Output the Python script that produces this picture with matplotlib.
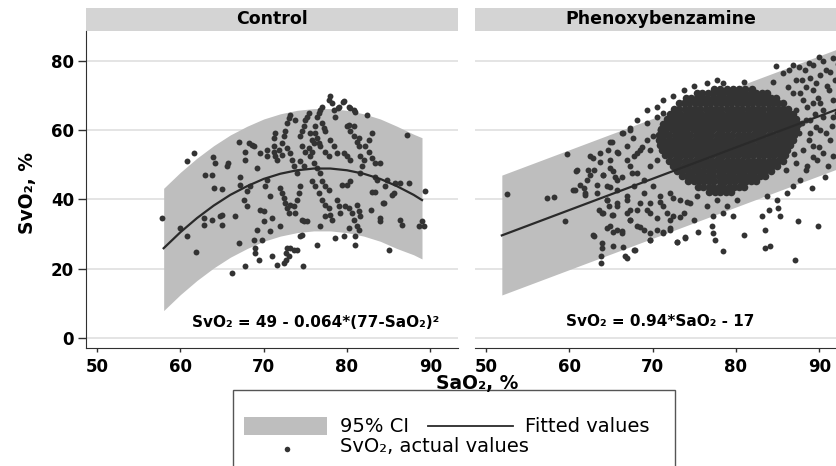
import numpy as np
import matplotlib
matplotlib.use("Agg")
import matplotlib.pyplot as plt
from matplotlib.patches import Rectangle
from matplotlib.lines import Line2D

plt.rcParams['font.family'] = ['DejaVu Sans']

# ---- data ----
panel_titles = ['Control', 'Phenoxybenzamine']
x_ticks = [50, 60, 70, 80, 90]
y_ticks = [0, 20, 40, 60, 80]

# control: quadratic fit and 95% CI
ctrl_ci_x = [58, 60, 62, 64, 66, 68, 70, 72, 74, 76, 78, 80, 82, 84, 86, 88, 89]
ctrl_fit = [25.9, 30.5, 34.6, 38.2, 41.3, 43.8, 45.9, 47.4, 48.4, 48.9, 48.9, 48.4,
            47.4, 45.9, 43.8, 41.3, 39.8]
ctrl_hi = [43.2, 47.8, 51.9, 55.5, 58.6, 61.1, 63.2, 64.7, 65.7, 66.2, 66.2, 65.7,
           64.7, 63.2, 61.1, 58.8, 57.8]
ctrl_lo = [7.9, 12.5, 16.6, 20.2, 23.3, 25.8, 27.9, 29.4, 30.4, 30.9, 30.9, 30.4,
           29.4, 27.9, 25.8, 24.0, 22.8]

# phenoxybenzamine: linear fit and 95% CI
phen_ci_x = [51.9, 93.5]
phen_fit = [29.6, 67.2]
phen_hi = [47.0, 84.6]
phen_lo = [12.4, 50.0]

ctrl_pts = [
    (57.8, 34.6), (60.0, 31.7), (60.8, 29.5), (60.8, 51.0), (61.6, 53.4), (61.9, 24.8),
    (62.8, 32.7), (62.8, 34.6), (63.0, 47.0), (63.8, 47.1), (63.9, 52.2), (64.2, 50.5),
    (63.8, 34.1), (64.8, 35.1), (64.0, 43.3), (65.0, 43.1), (65.0, 32.7), (65.0, 35.6),
    (65.6, 49.5), (65.7, 50.5), (66.6, 35.1), (66.2, 18.8), (67.0, 27.4), (67.1, 56.7),
    (67.2, 46.6), (67.2, 44.2), (67.8, 53.8), (67.8, 51.4), (67.8, 20.7), (68.0, 38.0),
    (68.4, 43.8), (68.8, 28.4), (69.0, 26.0), (69.0, 24.5), (69.4, 22.6), (69.2, 49.0),
    (68.2, 56.3), (68.6, 55.8), (68.8, 55.3), (69.6, 53.4), (69.6, 37.0), (70.0, 36.5),
    (70.0, 33.7), (70.4, 52.4), (70.4, 54.3), (70.8, 30.8), (71.0, 23.6), (71.0, 34.6),
    (71.4, 59.1), (71.2, 57.7), (71.2, 55.3), (71.6, 21.2), (72.0, 32.2), (72.4, 21.6),
    (72.7, 22.6), (72.7, 24.5), (72.8, 26.0), (73.0, 23.6), (73.2, 26.0), (73.6, 25.5),
    (74.0, 25.5), (74.4, 29.3), (74.6, 29.8), (74.7, 20.7), (72.2, 56.3), (72.4, 58.2),
    (72.6, 59.6), (72.8, 62.0), (73.0, 63.5), (73.2, 64.4), (73.8, 63.0), (72.8, 54.8),
    (73.2, 53.4), (73.4, 51.4), (73.6, 49.5), (74.0, 47.6), (72.0, 43.3), (72.2, 41.8),
    (72.4, 40.4), (72.6, 38.9), (72.8, 37.5), (73.0, 36.1), (73.2, 38.5), (73.6, 38.0),
    (73.8, 36.1), (74.0, 39.9), (74.2, 41.8), (74.4, 43.8), (74.6, 34.1), (74.8, 33.7),
    (75.2, 33.7), (74.4, 58.2), (74.6, 59.6), (74.8, 61.1), (75.0, 63.0), (75.2, 63.9),
    (75.4, 64.9), (75.6, 59.1), (75.8, 57.2), (76.0, 56.3), (76.2, 61.1), (76.4, 63.9),
    (76.6, 64.9), (76.8, 65.9), (77.0, 66.8), (75.6, 52.4), (76.0, 50.5), (76.4, 49.0),
    (76.8, 47.6), (77.0, 45.2), (77.4, 43.8), (77.8, 42.8), (75.8, 45.2), (76.2, 43.8),
    (76.6, 41.8), (77.0, 39.9), (77.4, 38.5), (77.8, 37.5), (78.0, 35.6), (78.2, 34.1),
    (76.4, 26.9), (76.8, 32.2), (77.4, 35.1), (77.8, 68.8), (78.0, 69.7), (78.2, 67.8),
    (78.4, 65.9), (78.6, 63.9), (78.0, 57.2), (78.4, 55.3), (78.8, 53.4), (78.6, 28.8),
    (78.8, 39.9), (79.0, 38.0), (79.2, 36.1), (79.0, 66.8), (79.6, 68.3), (80.2, 66.8),
    (79.6, 29.3), (79.4, 44.2), (80.0, 44.2), (80.4, 45.2), (79.6, 53.4), (80.0, 52.4),
    (80.4, 51.4), (80.0, 61.1), (80.4, 59.6), (80.8, 58.2), (81.2, 56.7), (81.4, 55.3),
    (80.2, 61.5), (80.8, 61.1), (79.8, 38.0), (80.2, 37.5), (80.6, 36.1), (80.8, 34.1),
    (81.2, 32.2), (80.2, 31.7), (81.0, 29.3), (81.0, 26.9), (81.4, 31.3), (81.2, 38.5),
    (81.4, 36.6), (81.6, 35.1), (80.8, 65.9), (81.4, 57.7), (81.6, 52.4), (82.0, 51.4),
    (81.6, 47.6), (81.8, 49.5), (82.4, 64.4), (82.2, 55.3), (82.6, 57.2), (83.0, 59.1),
    (82.6, 53.8), (83.0, 51.9), (83.4, 50.5), (83.4, 46.6), (83.6, 45.7), (82.9, 37.0),
    (83.0, 42.0), (84.0, 50.5), (84.0, 33.7), (84.0, 34.6), (84.4, 38.9), (84.6, 43.8),
    (84.8, 45.7), (85.0, 25.5), (85.4, 41.3), (85.6, 41.8), (85.8, 44.7), (86.4, 34.1),
    (86.6, 32.7), (86.4, 44.7), (87.2, 58.7), (87.4, 44.7), (88.6, 32.2), (89.0, 33.7),
    (89.4, 42.3), (89.2, 32.2), (71.2, 53.8), (71.4, 52.4), (71.6, 51.4), (71.8, 54.3),
    (72.2, 52.9), (70.2, 43.8), (70.4, 45.7), (70.8, 40.9), (69.8, 28.4), (69.2, 31.3),
    (68.0, 42.3), (67.6, 39.9), (74.6, 55.3), (75.0, 53.8), (75.4, 54.8), (75.8, 53.8),
    (74.4, 51.0), (74.8, 49.5), (76.2, 59.1), (76.4, 57.7), (76.6, 56.3), (76.8, 55.3),
    (77.0, 62.0), (77.2, 60.6), (77.4, 59.6), (77.4, 53.8), (77.8, 52.4), (79.5, 68.1),
    (78.9, 66.4), (80.4, 66.4), (81.0, 65.2), (83.4, 42.1), (84.3, 39.0),
]

phen_pts = [
    (52.5, 41.6), (57.3, 40.4), (58.1, 40.6), (59.5, 33.7), (59.7, 53.2), (60.8, 48.1),
    (60.7, 42.6), (61.7, 43.3), (61.9, 41.8), (62.1, 45.7), (62.5, 47.1), (62.9, 48.6),
    (62.9, 29.5), (63.9, 27.4), (63.9, 26.0), (63.8, 23.6), (63.8, 21.6), (63.5, 37.0),
    (64.1, 36.1), (64.5, 39.9), (64.7, 38.0), (65.1, 35.6), (64.9, 32.2), (65.7, 31.3),
    (66.3, 30.8), (65.3, 26.4), (66.7, 23.6), (67.7, 25.5), (67.3, 34.1), (68.1, 32.2),
    (68.9, 31.3), (69.7, 30.3), (70.5, 31.3), (71.3, 30.3), (72.1, 31.3), (69.7, 28.4),
    (72.9, 27.6), (73.9, 29.0), (77.1, 32.2), (77.3, 30.3), (77.5, 28.4), (78.5, 25.0),
    (80.9, 29.8), (83.5, 31.3), (83.5, 26.0), (84.1, 26.4), (87.1, 22.6), (87.5, 33.7),
    (89.9, 32.2), (83.1, 35.1), (83.9, 37.0), (85.1, 37.5), (85.3, 35.1), (89.1, 43.3),
    (90.7, 46.6), (91.1, 49.5), (91.7, 52.4), (92.5, 56.7), (86.9, 78.8), (88.3, 77.4),
    (89.3, 78.8), (90.5, 79.8), (91.7, 80.8), (87.9, 74.5), (88.9, 75.0), (90.1, 76.0),
    (91.3, 76.9), (92.5, 77.4), (87.7, 70.7), (89.3, 71.6), (90.9, 72.6), (92.5, 73.6),
    (93.3, 75.0), (88.5, 66.8), (90.1, 67.8), (91.7, 68.8), (92.9, 69.7), (88.9, 63.0),
    (90.5, 63.9), (92.1, 64.9), (93.3, 65.9), (88.9, 59.1), (90.1, 60.1), (91.3, 57.2),
    (92.5, 60.1), (89.3, 55.3), (90.5, 53.4), (89.7, 51.4), (88.5, 49.5), (87.7, 45.7),
    (86.9, 43.8), (86.1, 41.8), (84.9, 39.9), (83.7, 40.9), (64.9, 56.7), (66.3, 59.1),
    (67.3, 60.6), (68.1, 63.0), (69.3, 65.9), (70.5, 66.8), (71.3, 68.8), (72.5, 69.7),
    (73.7, 71.6), (74.9, 72.6), (76.5, 73.6), (77.7, 74.5), (78.5, 73.6), (80.9, 74.0),
    (62.5, 52.4), (63.7, 53.4), (64.9, 51.4), (65.7, 53.8), (66.9, 55.3), (67.7, 52.4),
    (68.5, 54.3), (69.3, 57.2), (70.1, 58.2), (70.9, 60.1), (64.1, 47.1), (65.3, 48.1),
    (66.3, 46.6), (67.3, 49.5), (68.1, 47.6), (68.9, 45.7), (69.7, 49.5), (70.5, 51.4),
    (63.3, 41.8), (64.5, 43.8), (65.7, 42.8), (66.9, 40.9), (67.7, 43.8), (68.9, 41.8),
    (70.1, 43.8), (70.9, 40.9), (72.1, 41.8), (73.3, 39.9), (74.5, 38.9), (75.3, 40.9),
    (76.5, 38.0), (77.7, 39.9), (78.9, 38.0), (80.1, 39.9), (65.7, 38.0), (67.3, 37.0),
    (68.5, 38.9), (69.7, 36.1), (71.3, 38.0), (72.5, 35.1), (73.7, 36.1), (74.9, 34.1),
    (72.1, 34.1), (77.3, 35.1), (78.5, 36.1), (79.7, 35.1),
    (84.8, 78.5), (86.4, 77.3), (87.6, 78.2), (88.8, 79.4), (90.0, 81.1), (90.8, 77.3),
    (87.2, 74.5), (88.4, 72.4), (89.6, 73.6), (91.2, 71.6), (86.8, 70.7), (88.0, 68.7),
    (89.2, 67.8), (90.4, 65.8), (91.6, 63.8), (87.2, 65.8), (88.4, 62.9), (89.6, 60.9),
    (90.8, 59.2), (87.6, 59.2), (88.8, 57.1), (90.0, 55.1), (88.0, 54.3), (89.2, 52.2),
    (87.2, 50.5), (88.4, 48.5), (86.0, 48.5), (85.6, 76.5), (84.4, 73.9),
    (60.9, 48.5), (62.2, 48.5), (62.8, 51.9), (63.7, 50.8), (64.0, 47.0), (64.9, 49.1),
    (65.1, 56.6), (64.6, 54.3), (65.8, 53.4), (66.4, 59.2), (67.3, 60.0), (67.6, 57.7),
    (66.9, 51.4), (68.1, 53.4), (69.3, 62.1), (68.7, 55.1), (69.7, 54.3), (70.5, 63.8),
    (71.2, 64.9), (65.5, 46.5), (67.5, 47.6), (61.3, 44.2), (60.4, 42.7), (61.9, 41.3),
    (63.3, 44.2), (64.9, 43.6), (65.7, 45.6), (64.5, 39.8), (65.7, 39.0), (66.9, 39.8),
    (63.9, 36.1), (65.2, 35.5), (66.9, 36.1), (68.1, 36.9), (69.3, 36.9), (70.5, 34.6),
    (67.3, 34.1), (68.5, 32.0), (62.8, 29.7), (64.5, 31.7), (65.2, 30.6), (66.3, 30.3),
    (66.4, 26.3), (67.9, 25.4), (69.7, 28.3), (71.2, 30.6), (72.1, 31.7), (72.9, 27.7),
    (73.9, 28.9), (66.9, 23.1), (69.7, 39.0), (70.9, 39.3), (72.5, 40.4), (73.3, 34.9),
    (71.7, 36.1), (74.1, 39.3), (75.4, 30.6), (86.2, 72.3), (87.9, 62.0), (89.9, 69.4),
    (91.9, 74.6), (92.2, 79.2), (86.5, 56.1), (87.0, 53.0), (91.5, 61.2), (89.5, 64.6),
]

# dense core of the phenoxybenzamine cloud, read row by row (SvO2 level, SaO2 values)
phen_core = [
    (72.0, [77.4, 78.1, 78.9, 79.6, 80.4, 81.1, 81.9]),
    (70.6, [75.3, 75.9, 76.6, 77.2, 77.9, 78.5, 79.2, 79.8, 80.5, 81.1, 81.8, 82.4, 83.1, 83.7]),
    (69.2, [74.0, 74.6, 75.3, 75.9, 76.5, 77.2, 77.8, 78.4, 79.1, 79.7, 80.3, 81.0, 81.6, 82.2,
            82.9, 83.5, 84.2, 84.8]),
    (67.7, [73.2, 73.8, 74.4, 75.1, 75.7, 76.3, 76.9, 77.6, 78.2, 78.8, 79.4, 80.1, 80.7, 81.3,
            81.9, 82.6, 83.2, 83.8, 84.4, 85.1, 85.6]),
    (66.2, [72.6, 73.2, 73.9, 74.5, 75.1, 75.7, 76.4, 77.0, 77.6, 78.2, 78.9, 79.5, 80.1, 80.7,
            81.4, 82.0, 82.6, 83.2, 83.9, 84.5, 85.1, 85.7, 86.2]),
    (64.7, [72.1, 72.7, 73.3, 74.0, 74.6, 75.2, 75.8, 76.5, 77.1, 77.7, 78.3, 79.0, 79.6, 80.2,
            80.8, 81.5, 82.1, 82.7, 83.3, 84.0, 84.6, 85.2, 85.8, 86.4, 86.9]),
    (63.2, [71.7, 72.3, 72.9, 73.6, 74.2, 74.8, 75.4, 76.1, 76.7, 77.3, 77.9, 78.6, 79.2, 79.8,
            80.4, 81.1, 81.7, 82.3, 82.9, 83.6, 84.2, 84.8, 85.4, 86.1, 86.7, 87.2]),
    (61.7, [71.3, 71.9, 72.6, 73.2, 73.8, 74.4, 75.1, 75.7, 76.3, 76.9, 77.6, 78.2, 78.8, 79.4,
            80.1, 80.7, 81.3, 81.9, 82.6, 83.2, 83.8, 84.4, 85.1, 85.7, 86.3, 86.9, 87.4]),
    (60.2, [71.0, 71.6, 72.3, 72.9, 73.5, 74.1, 74.8, 75.4, 76.0, 76.6, 77.3, 77.9, 78.5, 79.1,
            79.8, 80.4, 81.0, 81.6, 82.3, 82.9, 83.5, 84.1, 84.8, 85.4, 86.0, 86.6, 87.2]),
    (58.7, [70.8, 71.4, 72.0, 72.7, 73.3, 73.9, 74.5, 75.2, 75.8, 76.4, 77.0, 77.7, 78.3, 78.9,
            79.5, 80.2, 80.8, 81.4, 82.0, 82.7, 83.3, 83.9, 84.5, 85.2, 85.8, 86.4, 87.0]),
    (57.2, [70.7, 71.3, 71.9, 72.6, 73.2, 73.8, 74.4, 75.1, 75.7, 76.3, 76.9, 77.6, 78.2, 78.8,
            79.4, 80.1, 80.7, 81.3, 81.9, 82.6, 83.2, 83.8, 84.4, 85.1, 85.7, 86.3, 86.8]),
    (55.7, [70.9, 71.5, 72.1, 72.8, 73.4, 74.0, 74.6, 75.3, 75.9, 76.5, 77.1, 77.8, 78.4, 79.0,
            79.6, 80.3, 80.9, 81.5, 82.1, 82.8, 83.4, 84.0, 84.6, 85.3, 85.9, 86.5]),
    (54.2, [71.1, 71.7, 72.4, 73.0, 73.6, 74.2, 74.9, 75.5, 76.1, 76.7, 77.4, 78.0, 78.6, 79.2,
            79.9, 80.5, 81.1, 81.7, 82.4, 83.0, 83.6, 84.2, 84.9, 85.5, 86.1]),
    (52.7, [71.5, 72.1, 72.8, 73.4, 74.0, 74.6, 75.3, 75.9, 76.5, 77.1, 77.8, 78.4, 79.0, 79.6,
            80.3, 80.9, 81.5, 82.1, 82.8, 83.4, 84.0, 84.6, 85.3, 85.9]),
    (51.2, [72.0, 72.6, 73.2, 73.9, 74.5, 75.1, 75.7, 76.4, 77.0, 77.6, 78.2, 78.9, 79.5, 80.1,
            80.7, 81.4, 82.0, 82.6, 83.2, 83.9, 84.5, 85.1, 85.6]),
    (49.7, [72.4, 73.0, 73.7, 74.3, 74.9, 75.5, 76.2, 76.8, 77.4, 78.0, 78.7, 79.3, 79.9, 80.5,
            81.2, 81.8, 82.4, 83.0, 83.7, 84.3, 84.9]),
    (48.2, [72.9, 73.5, 74.2, 74.8, 75.4, 76.0, 76.7, 77.3, 77.9, 78.5, 79.2, 79.8, 80.4, 81.0,
            81.7, 82.3, 82.9, 83.5, 84.2]),
    (46.7, [73.5, 74.1, 74.7, 75.4, 76.0, 76.6, 77.2, 77.9, 78.5, 79.1, 79.7, 80.4, 81.0, 81.6,
            82.2, 82.9, 83.5]),
    (45.2, [74.3, 74.9, 75.6, 76.2, 76.8, 77.4, 78.1, 78.7, 79.3, 79.9, 80.6, 81.2, 81.8, 82.4]),
    (43.7, [75.4, 76.0, 76.7, 77.3, 77.9, 78.5, 79.2, 79.8, 80.4, 81.0]),
    (42.2, [76.8, 77.5, 78.1, 78.8, 79.4]),
]

annotations = ['SvO\u2082 = 49 - 0.064*(77-SaO\u2082)\u00b2', 'SvO\u2082 = 0.94*SaO\u2082 - 17']
annot_xy = [(76.2, 4.6), (70.9, 4.8)]

# ---- styles ----
BAND = '#bebebe'
STRIP = '#d4d4d4'
DOT = '#333333'
GRID = '#dddddd'
AX = '#303030'

W, H = 836, 466
fig = plt.figure(figsize=(W / 100, H / 100), dpi=100)

ax_l, ax_b, ax_w, ax_h = 86, 348, 372, 317   # pixel geometry
axes = [fig.add_axes([ax_l / W, 1 - ax_b / H, ax_w / W, ax_h / H]),
        fig.add_axes([475 / W, 1 - ax_b / H, ax_w / W, ax_h / H])]

core_x = [x for y, xs in phen_core for x in xs]
core_y = [y for y, xs in phen_core for x in xs]

series = [
    (ctrl_ci_x, ctrl_lo, ctrl_hi, ctrl_fit, [p[0] for p in ctrl_pts], [p[1] for p in ctrl_pts]),
    (phen_ci_x, phen_lo, phen_hi, phen_fit, [p[0] for p in phen_pts], [p[1] for p in phen_pts]),
]

for i, ax in enumerate(axes):
    cx, lo, hi, fit, sx, sy = series[i]
    ax.fill_between(cx, lo, hi, color=BAND, lw=0, zorder=1)
    ax.scatter(sx, sy, s=18, color=DOT, linewidths=0, zorder=2)
    if i == 1:
        # overlapping points of the dense core merge into a solid cloud
        ax.scatter(core_x, core_y, s=30, color=DOT, linewidths=0, zorder=2)
    ax.plot(cx, fit, color='#2a2a2a', lw=1.6, zorder=3)

    ax.set_xlim(48.68, 93.32)
    ax.set_ylim(-2.9, 88.6)
    ax.set_xticks(x_ticks)
    ax.set_yticks(y_ticks)
    ax.yaxis.grid(True, color=GRID, lw=1.1, zorder=0)
    ax.set_axisbelow(True)
    for s in ['top', 'right']:
        ax.spines[s].set_visible(False)
    ax.spines['bottom'].set_color(AX)
    ax.spines['left'].set_color(AX)
    ax.tick_params(axis='x', length=3, width=1, color=AX, pad=4, labelsize=12)
    ax.tick_params(axis='y', length=5.5, width=1, color=AX, pad=3, labelsize=12)
    for lab in ax.get_xticklabels() + ax.get_yticklabels():
        lab.set_fontweight('bold')

    # header strip
    strip_h = 23 / ax_h
    ax.add_patch(Rectangle((0, 1), 1, strip_h, transform=ax.transAxes,
                           color=STRIP, lw=0, clip_on=False))
    ax.text(0.5, 1 + strip_h / 2, panel_titles[i], transform=ax.transAxes,
            ha='center', va='center', fontsize=12.5, fontweight='bold')

    ax.text(annot_xy[i][0], annot_xy[i][1], annotations[i], ha='center', va='center',
            fontsize=11, fontweight='bold', zorder=4)

axes[1].spines['left'].set_visible(False)
axes[1].tick_params(axis='y', left=False, labelleft=False)

fig.text(28 / W, 1 - 193 / H, 'SvO\u2082, %', rotation=90, ha='center', va='center',
         fontsize=13.5, fontweight='bold')
fig.text(477 / W, 1 - 389 / H, 'SaO\u2082, %', ha='center', va='baseline',
         fontsize=13.5, fontweight='bold')

# legend, laid out like the Stata key (pixel positions)
def fx(px):
    return px / W


def fy(py):
    return 1 - py / H


fig.patches.append(Rectangle((fx(233), -0.05), fx(675) - fx(233), fy(390) + 0.05,
                             transform=fig.transFigure, fill=False, ec='#555555', lw=1))
fig.patches.append(Rectangle((fx(244), fy(435)), fx(327) - fx(244), fy(417) - fy(435),
                             transform=fig.transFigure, color=BAND, lw=0))
fig.lines.append(Line2D([fx(428), fx(513)], [fy(426), fy(426)], transform=fig.transFigure,
                        color='#2a2a2a', lw=1.3))
fig.lines.append(Line2D([fx(287)], [fy(449)], transform=fig.transFigure, ls='none',
                        marker='o', ms=4, color=DOT, mec='none'))
fig.text(fx(340), fy(426), '95% CI', ha='left', va='center', fontsize=14)
fig.text(fx(525), fy(426), 'Fitted values', ha='left', va='center', fontsize=14)
fig.text(fx(340), fy(447), 'SvO\u2082, actual values', ha='left', va='center', fontsize=14)

fig.savefig('out.png', dpi=100)
